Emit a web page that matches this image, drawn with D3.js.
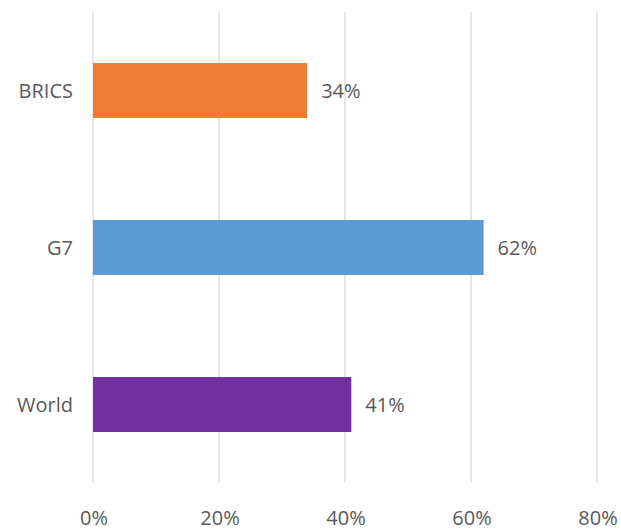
<!DOCTYPE html>
<html>
<head>
<meta charset="utf-8">
<script src="https://cdn.jsdelivr.net/npm/d3@7"></script>
<style>
  html, body { margin: 0; padding: 0; background: #ffffff; }
  svg { display: block; }
  text { font-family: "Open Sans", "Liberation Sans", sans-serif; fill: #595959; }
</style>
</head>
<body>
<div id="chart"></div>
<script>
const categories = ["BRICS", "G7", "World"];
const values = [0.34, 0.62, 0.41];
const valueLabels = ["34%", "62%", "41%"];
const barColors = ["#ED7D31", "#5B9BD5", "#7030A0"];
const tickValues = [0, 0.2, 0.4, 0.6, 0.8];
const tickLabels = ["0%", "20%", "40%", "60%", "80%"];

const W = 621, H = 531;
const plot = { left: 93, right: 597, top: 12, bottom: 483 };

const svg = d3.select("#chart").append("svg")
  .attr("width", W).attr("height", H);

const x = d3.scaleLinear().domain([0, 0.8]).range([plot.left, plot.right]);
const y = d3.scaleBand().domain(categories).range([plot.top, plot.bottom])
  .paddingInner(0.65).paddingOuter(0.325);

// gridlines
svg.append("g").selectAll("line").data(tickValues).join("line")
  .attr("x1", d => x(d)).attr("x2", d => x(d))
  .attr("y1", plot.top).attr("y2", plot.bottom)
  .attr("stroke", "#d9d9d9").attr("stroke-width", 1.3);

// x tick labels
svg.append("g").selectAll("text").data(tickValues).join("text")
  .attr("x", d => x(d) + 1).attr("y", 525)
  .attr("text-anchor", "middle")
  .style("font-size", "20px")
  .attr("textLength", null)
  .text((d, i) => tickLabels[i]);

// bars
svg.append("g").selectAll("rect").data(categories).join("rect")
  .attr("x", x(0))
  .attr("y", d => y(d))
  .attr("width", (d, i) => x(values[i]) - x(0))
  .attr("height", y.bandwidth())
  .attr("fill", (d, i) => barColors[i]);

// category labels
svg.append("g").selectAll("text").data(categories).join("text")
  .attr("x", 73)
  .attr("y", d => y(d) + y.bandwidth() / 2)
  .attr("dy", "0.35em")
  .attr("text-anchor", "end")
  .style("font-size", "20px")
  .text(d => d);

// value labels
svg.append("g").selectAll("text").data(categories).join("text")
  .attr("x", (d, i) => x(values[i]) + 14)
  .attr("y", d => y(d) + y.bandwidth() / 2)
  .attr("dy", "0.35em")
  .attr("text-anchor", "start")
  .style("font-size", "20px")
  .text((d, i) => valueLabels[i]);
</script>
</body>
</html>
